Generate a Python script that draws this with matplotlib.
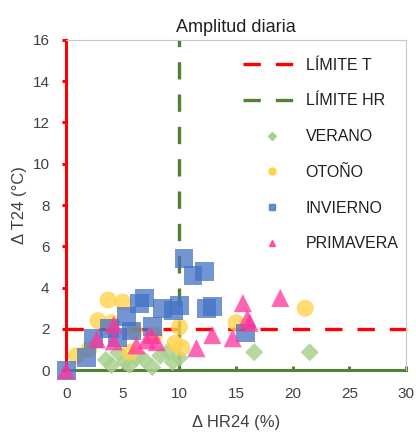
import matplotlib
matplotlib.use("Agg")
import matplotlib.pyplot as plt
from matplotlib.lines import Line2D

plt.rcParams['font.family'] = ['Liberation Sans Narrow', 'Liberation Sans', 'DejaVu Sans']

# Seasonal daily amplitude data: ΔHR24 (%) vs ΔT24 (°C)
verano_x = [4.0, 4.6, 5.2, 5.6, 6.2, 6.9, 7.6, 8.3, 9.0, 9.4, 10.0, 3.5, 16.6, 21.5]
verano_y = [0.25, 0.85, 0.4, 0.25, 0.6, 0.5, 0.15, 0.7, 0.9, 0.4, 0.6, 0.5, 0.87, 0.87]

otono_x = [3.7, 5.0, 2.8, 4.0, 0.9, 5.6, 10.2, 9.6, 10.0, 15.0, 21.1, 6.0, 7.8, 2.0]
otono_y = [3.4, 3.3, 2.4, 2.3, 0.7, 0.87, 1.1, 1.3, 2.1, 2.3, 3.0, 1.9, 1.7, 1.0]

invierno_x = [0.0, 1.8, 2.4, 3.8, 5.3, 6.5, 6.9, 7.6, 8.5, 10.0, 9.5, 10.4, 11.2, 12.2,
              12.4, 12.9, 15.8, 4.5, 5.8]
invierno_y = [0.0, 0.6, 1.55, 2.0, 2.6, 3.25, 3.5, 2.1, 3.0, 3.15, 2.9, 5.4, 4.6, 4.8,
              3.0, 3.1, 1.8, 1.6, 1.9]

primavera_x = [0.0, 2.7, 4.2, 4.2, 7.1, 7.5, 8.0, 11.5, 12.9, 14.7, 15.6, 16.0, 16.2, 18.9, 6.2]
primavera_y = [0.0, 1.5, 2.2, 1.4, 1.45, 1.7, 1.36, 1.07, 1.7, 1.55, 3.25, 2.5, 2.3, 3.5, 1.2]

limite_t = 2
limite_hr = 10

x_ticks = [0, 5, 10, 15, 20, 25, 30]
y_ticks = [0, 2, 4, 6, 8, 10, 12, 14, 16]

c_verano = '#A9D18E'
c_otono = '#FFD24D'
c_invierno = '#4472C4'
c_primavera = '#FF3399'
c_red = '#FF0000'
c_green = '#548235'
dash = (5.2, 4.5)

fig = plt.figure(figsize=(4.16, 4.34), dpi=100)
ax = fig.add_axes([0.159, 0.147, 0.817, 0.761])
ax.set_xlim(0, 30)
ax.set_ylim(0, 16)

# threshold lines
ax.plot([0, 30.5], [limite_t, limite_t], color=c_red, lw=2.4, dashes=dash,
        clip_on=False, zorder=2)
ax.plot([limite_hr, limite_hr], [0, 16], color=c_green, lw=2.4, dashes=dash,
        clip_on=False, zorder=2)

ax.scatter(verano_x, verano_y, marker='D', s=85, color=c_verano, alpha=0.85,
           edgecolors='none', zorder=3, clip_on=False)
ax.scatter(otono_x, otono_y, marker='o', s=150, color=c_otono, alpha=0.8,
           edgecolors='none', zorder=4, clip_on=False)
ax.scatter(invierno_x, invierno_y, marker='s', s=185, color=c_invierno, alpha=0.75,
           edgecolors='none', zorder=5, clip_on=False)
ax.scatter(primavera_x, primavera_y, marker='^', s=170, color=c_primavera, alpha=0.75,
           edgecolors='none', zorder=6, clip_on=False)

# axes styling
for side in ('top', 'right'):
    ax.spines[side].set_color('#C8C8C8')
    ax.spines[side].set_linewidth(0.8)
ax.spines['left'].set_color(c_red)
ax.spines['left'].set_linewidth(2.2)
ax.spines['bottom'].set_color(c_green)
ax.spines['bottom'].set_linewidth(2.2)
ax.spines['left'].set_zorder(1)
ax.spines['bottom'].set_zorder(1)

ax.set_xticks(x_ticks)
ax.set_yticks(y_ticks)
ax.tick_params(axis='y', colors=c_red, length=3, width=2.2, labelsize=11,
               labelcolor='#404040', direction='out', pad=9)
ax.tick_params(axis='x', colors=c_green, length=3, width=2.2, labelsize=11,
               labelcolor='#404040', direction='in', pad=12)

ax.set_title('Amplitud diaria', fontsize=13, color='#202020', pad=6)
ax.set_xlabel('Δ HR24 (%)', fontsize=12, color='#404040', labelpad=10)
ax.set_ylabel('Δ T24 (°C)', fontsize=12, color='#404040', labelpad=4)

handles = [
    Line2D([], [], color=c_red, lw=2.4, dashes=dash),
    Line2D([], [], color=c_green, lw=2.4, dashes=dash),
    Line2D([], [], marker='D', ls='none', color=c_verano, markersize=4),
    Line2D([], [], marker='o', ls='none', color=c_otono, markersize=5),
    Line2D([], [], marker='s', ls='none', color=c_invierno, alpha=0.8, markersize=5),
    Line2D([], [], marker='^', ls='none', color=c_primavera, alpha=0.8, markersize=5),
]
labels = ['LÍMITE T', 'LÍMITE HR', 'VERANO', 'OTOÑO', 'INVIERNO', 'PRIMAVERA']
ax.legend(handles, labels, loc='upper right', frameon=False, fontsize=11.5,
          labelspacing=1.3, handlelength=3.6, handletextpad=0.3,
          bbox_to_anchor=(1.02, 0.99), labelcolor='#202020')

fig.savefig('out.png', dpi=100)
